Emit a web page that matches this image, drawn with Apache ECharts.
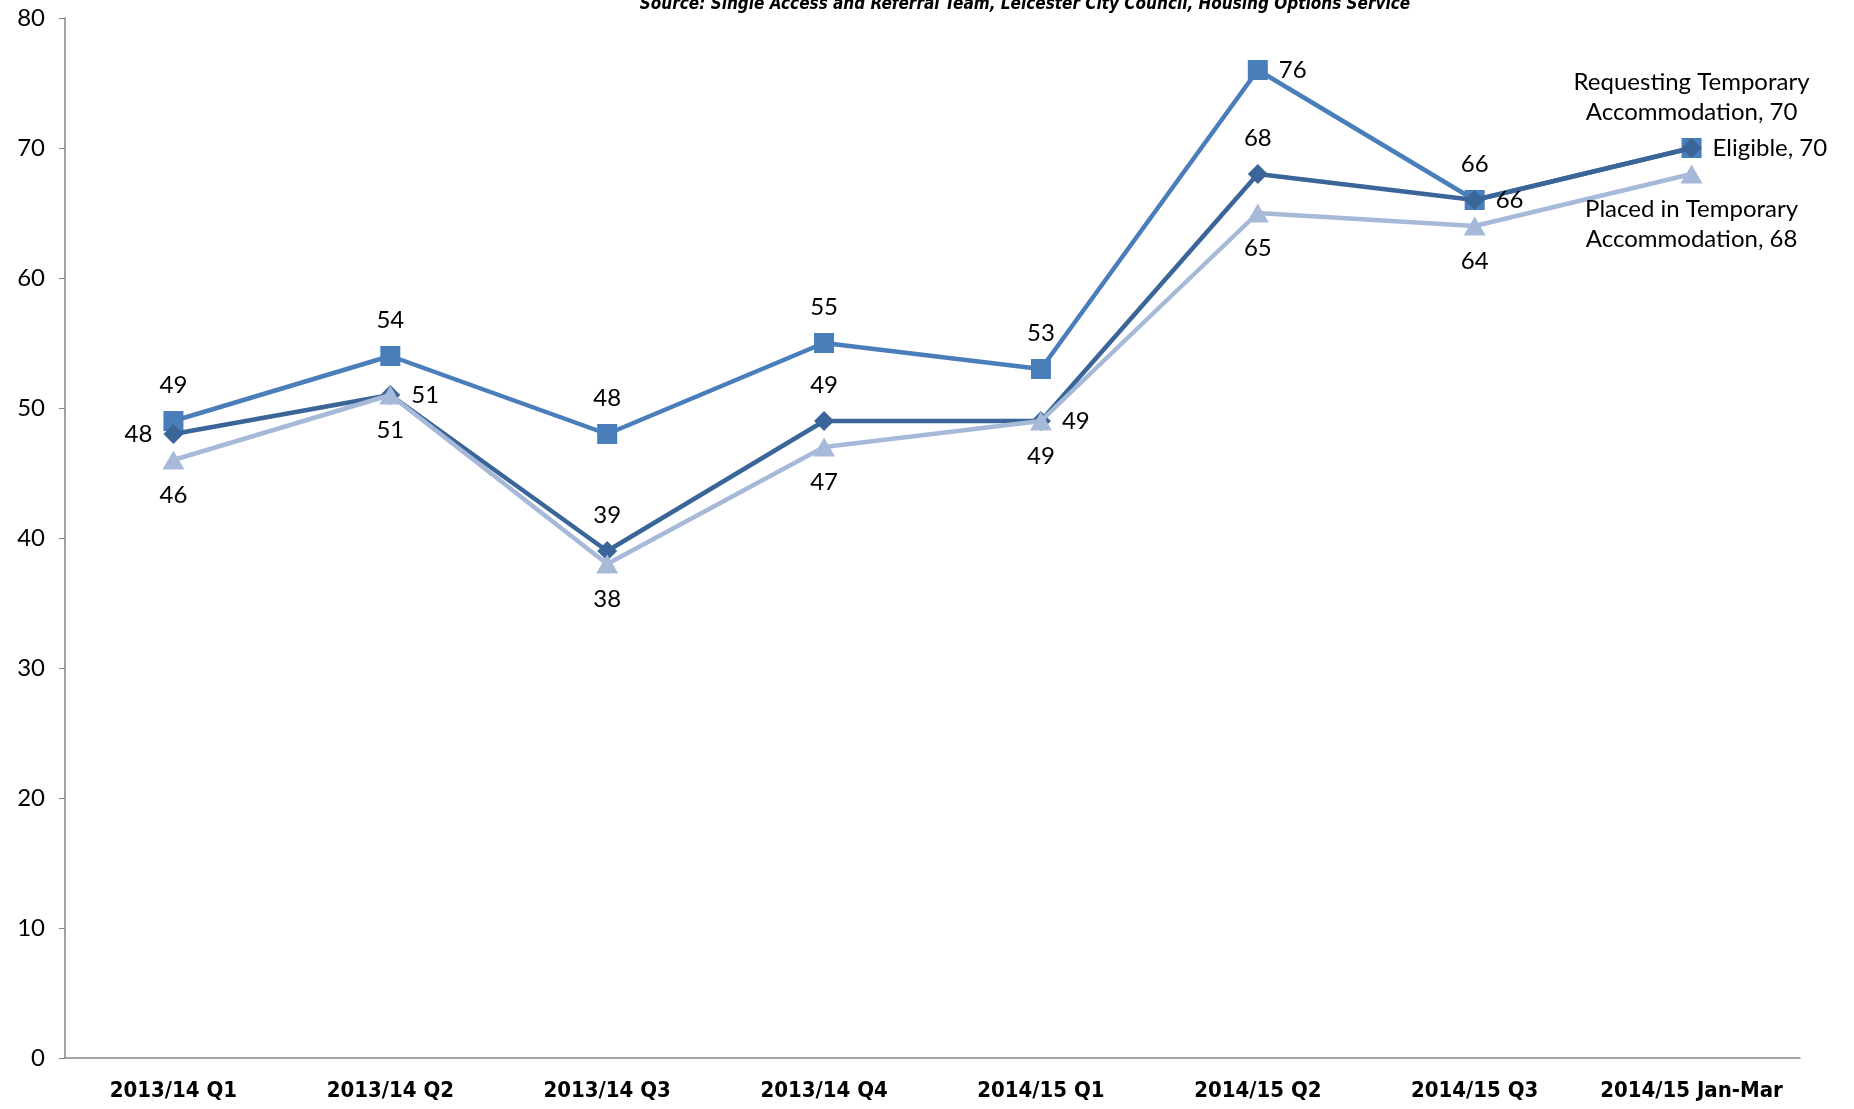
<!DOCTYPE html>
<html>
<head>
<meta charset="utf-8">
<title>Temporary accommodation</title>
<script src="https://cdn.jsdelivr.net/npm/echarts@6/dist/echarts.min.js"></script>
<style>
  html, body { margin: 0; padding: 0; background: #fff; }
  #chart { width: 1854px; height: 1109px; }
</style>
</head>
<body>
<div id="chart"></div>
<script>
const categories = ["2013/14 Q1", "2013/14 Q2", "2013/14 Q3", "2013/14 Q4", "2014/15 Q1", "2014/15 Q2", "2014/15 Q3", "2014/15 Jan-Mar"];
const requesting = [49, 54, 48, 55, 53, 76, 66, 70];
const eligible = [48, 51, 39, 49, 49, 68, 66, 70];
const placed = [46, 51, 38, 47, 49, 65, 64, 68];
const yTicks = [0, 10, 20, 30, 40, 50, 60, 70, 80];

const labelFont = "Lato, 'Open Sans', sans-serif";
const axisFont = "'Liberation Sans Narrow', 'DejaVu Sans Condensed', sans-serif";

// where each point label sits, per series
const reqPos = ["top", "top", "top", "top", "top", "right", "top", "top"];
const eliPos = ["left", "right", "top", "top", "right", "top", "right", "right"];
const plaPos = ["bottom", "bottom", "bottom", "bottom", "bottom", "bottom", "bottom", "bottom"];

const chart = echarts.init(document.getElementById("chart"));

function points (values, positions, lastText) {
  return values.map((v, i) => ({
    value: v,
    label: {
      position: positions[i],
      formatter: i === values.length - 1 ? lastText : "{c}",
    },
  }));
}

const baseLabel = {
  show: true,
  color: "#000",
  fontFamily: labelFont,
  fontSize: 24,
  distance: 11,
  lineHeight: 30,
};

chart.setOption({
  animation: false,
  title: {
    text: "Source: Single Access and Referral Team, Leicester City Council, Housing Options Service",
    left: 1020,
    textAlign: "center",
    top: -9,
    textStyle: {
      fontFamily: axisFont,
      fontStyle: "italic",
      fontWeight: "bold",
      fontSize: 17,
      color: "#000",
    },
  },
  grid: {
    left: 65,
    right: 54,
    top: 18,
    bottom: 51,
  },
  xAxis: {
    type: "category",
    data: categories,
    axisLine: { lineStyle: { color: "#868686", width: 1.5 } },
    axisTick: { show: false },
    axisLabel: {
      interval: 0,
      color: "#000",
      fontFamily: axisFont,
      fontWeight: "bold",
      fontSize: 22,
      margin: 22,
    },
  },
  yAxis: {
    type: "value",
    min: yTicks[0],
    max: yTicks[yTicks.length - 1],
    interval: 10,
    splitLine: { show: false },
    axisLine: { show: true, lineStyle: { color: "#868686", width: 1.5 } },
    axisTick: { show: true, length: 6, lineStyle: { color: "#868686" } },
    axisLabel: {
      color: "#000",
      fontFamily: labelFont,
      fontSize: 24,
      margin: 20,
    },
  },
  series: [
    {
      name: "Requesting Temporary Accommodation",
      type: "line",
      data: points(requesting, reqPos, "Requesting Temporary\nAccommodation, {c}"),
      symbol: "rect",
      symbolSize: 20,
      lineStyle: { color: "#4A7EBB", width: 4.5 },
      itemStyle: { color: "#4A7EBB" },
      label: Object.assign({}, baseLabel),
      z: 2,
    },
    {
      name: "Eligible",
      type: "line",
      data: points(eligible, eliPos, "Eligible, {c}"),
      symbol: "diamond",
      symbolSize: 20,
      lineStyle: { color: "#3A6598", width: 4.5 },
      itemStyle: { color: "#3A6598" },
      label: Object.assign({}, baseLabel),
      z: 3,
    },
    {
      name: "Placed in Temporary Accommodation",
      type: "line",
      data: points(placed, plaPos, "Placed in Temporary\nAccommodation, {c}"),
      symbol: "triangle",
      symbolSize: [22, 19],
      lineStyle: { color: "#A7B9D9", width: 4.5 },
      itemStyle: { color: "#A7B9D9" },
      label: Object.assign({}, baseLabel),
      z: 4,
    },
  ],
});
</script>
</body>
</html>
